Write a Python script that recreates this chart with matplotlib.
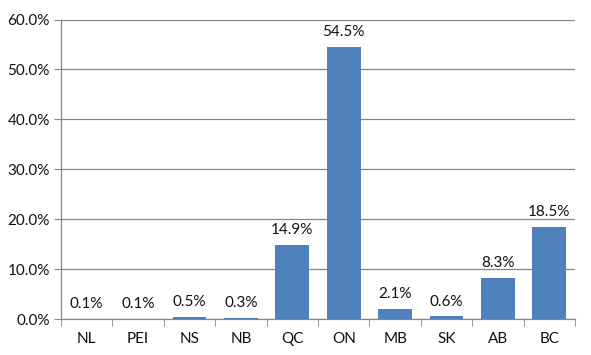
import matplotlib.pyplot as plt
import numpy as np
from matplotlib.ticker import FuncFormatter, FixedLocator

provinces = ['NL', 'PEI', 'NS', 'NB', 'QC', 'ON', 'MB', 'SK', 'AB', 'BC']
shares = [0.1, 0.1, 0.5, 0.3, 14.9, 54.5, 2.1, 0.6, 8.3, 18.5]

plt.rcParams['font.family'] = ['Lato', 'DejaVu Sans']

fig = plt.figure(figsize=(5.91, 3.55), dpi=100)
ax = fig.add_axes([0.1032, 0.1006, 0.8698, 0.8444])

x = np.arange(len(provinces))
bars = ax.bar(x, shares, width=0.66, color='#4F81BD', zorder=3)

for b, v in zip(bars, shares):
    ax.annotate('%.1f%%' % v, (b.get_x() + b.get_width() / 2, v),
                xytext=(0, 5.5), textcoords='offset points',
                ha='center', va='bottom', fontsize=11, color='#111111')

ax.set_xlim(-0.5, len(provinces) - 0.5)
ax.set_ylim(0, 60)
ax.set_yticks(np.arange(0, 61, 10))
ax.yaxis.set_major_formatter(FuncFormatter(lambda v, p: '%.1f%%' % v))
ax.yaxis.grid(True, color='#868686', linewidth=0.9, zorder=0)

ax.set_xticks(x)
ax.set_xticklabels(provinces)
ax.xaxis.set_minor_locator(FixedLocator(np.arange(-0.5, len(provinces), 1)))
ax.tick_params(axis='x', which='major', length=0, pad=9, labelsize=11, labelcolor='#111111')
ax.tick_params(axis='x', which='minor', length=5, color='#868686', direction='out')
ax.tick_params(axis='y', length=5, color='#868686', labelsize=11, pad=3, labelcolor='#111111')

for s in ['top', 'right']:
    ax.spines[s].set_visible(False)
for s in ['left', 'bottom']:
    ax.spines[s].set_color('#868686')
    ax.spines[s].set_linewidth(0.9)

fig.savefig('out.png', dpi=100)
